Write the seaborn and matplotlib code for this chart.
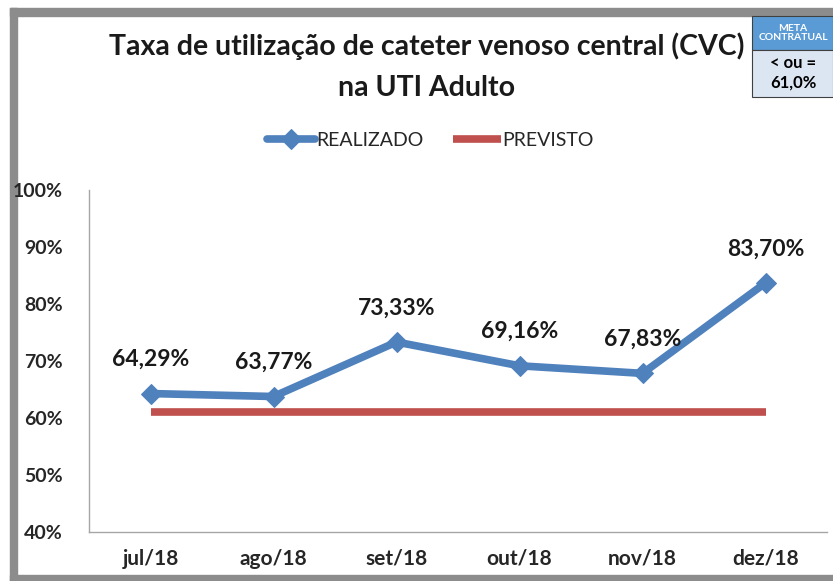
import matplotlib
matplotlib.use("Agg")
import matplotlib.pyplot as plt
from matplotlib.patches import Rectangle
import pandas as pd
import seaborn as sns

meses = ["jul/18", "ago/18", "set/18", "out/18", "nov/18", "dez/18"]
realizado = [64.29, 63.77, 73.33, 69.16, 67.83, 83.70]
previsto = [61.0, 61.0, 61.0, 61.0, 61.0, 61.0]
rotulos = ["64,29%", "63,77%", "73,33%", "69,16%", "67,83%", "83,70%"]
yticks = [40, 50, 60, 70, 80, 90, 100]

df = pd.DataFrame({"mes": meses, "realizado": realizado, "previsto": previsto})
df["x"] = range(len(meses))

sns.set_style("white")
plt.rcParams["font.family"] = ["Lato", "DejaVu Sans"]

fig = plt.figure(figsize=(8.33, 5.81), dpi=100)
W, H = 833, 581

def fx(px):
    return px / W

def fy(py):
    return 1 - py / H

# moldura cinza
fig.patches.append(Rectangle((fx(10), fy(16)), fx(833 - 10), 8 / H, transform=fig.transFigure,
                             color="#8c8c8c", zorder=-1))
fig.patches.append(Rectangle((fx(10), fy(581)), 7 / W, (581 - 8) / H, transform=fig.transFigure,
                             color="#8c8c8c", zorder=-1))
fig.patches.append(Rectangle((fx(10), fy(581)), fx(833 - 10), 6 / H, transform=fig.transFigure,
                             color="#8c8c8c", zorder=-1))

ax = fig.add_axes([fx(89), fy(532), fx(827 - 89), (532 - 190) / H])
ax.set_zorder(1)
ax.patch.set_alpha(0)

sns.lineplot(data=df, x="x", y="previsto", ax=ax, color="#C0504D", linewidth=5.5,
             label="PREVISTO", zorder=2, solid_capstyle="butt")
sns.lineplot(data=df, x="x", y="realizado", ax=ax, color="#4F81BD", linewidth=5.5,
             marker="D", markersize=14, markeredgecolor="#4F81BD", label="REALIZADO", zorder=3)

for i, (v, t) in enumerate(zip(realizado, rotulos)):
    ax.annotate(t, (i, v), xytext=(0, 17), textcoords="offset points", ha="center", va="bottom",
                fontsize=16.5, fontweight="bold", color="#1a1a1a")

ax.set_xlim(-0.5, len(meses) - 0.5)
ax.set_ylim(40, 100)
ax.set_xticks(df["x"])
ax.set_xticklabels(meses, fontsize=15, fontweight="bold")
ax.set_yticks(yticks)
ax.set_yticklabels([f"{t}%" for t in yticks], fontsize=14, fontweight="bold")
ax.tick_params(axis="y", pad=19, length=0)
ax.tick_params(axis="x", pad=12, length=0)
ax.set_xlabel("")
ax.set_ylabel("")
for s in ["top", "right"]:
    ax.spines[s].set_visible(False)
for s in ["left", "bottom"]:
    ax.spines[s].set_color("#a6a6a6")
    ax.spines[s].set_linewidth(1)

handles, labels = ax.get_legend_handles_labels()
for h in handles:
    h.set_markersize(10)
leg = fig.legend(handles[::-1], labels[::-1], loc="center", bbox_to_anchor=(fx(430), fy(140)),
                 ncol=2, frameon=False, fontsize=14, handlelength=2.5, columnspacing=1.5,
                 handletextpad=0.05)
ax.get_legend().remove()

fig.text(fx(427), fy(46), "Taxa de utilização de cateter venoso central (CVC)", ha="center",
         va="center", fontsize=20.5, fontweight="bold", color="#1a1a1a")
fig.text(fx(427), fy(88), "na UTI Adulto", ha="center", va="center", fontsize=20.5,
         fontweight="bold", color="#1a1a1a")

# caixa da meta
fig.patches.append(Rectangle((fx(752), fy(50)), fx(833 - 752), (50 - 16) / H,
                             transform=fig.transFigure, facecolor="#5B9BD5", edgecolor="#404040",
                             linewidth=0.8, zorder=5))
fig.patches.append(Rectangle((fx(752), fy(97)), fx(833 - 752), (97 - 50) / H,
                             transform=fig.transFigure, facecolor="#DCE6F2", edgecolor="#404040",
                             linewidth=0.8, zorder=5))
fig.text(fx(793), fy(33), "META\nCONTRATUAL", ha="center", va="center", fontsize=7.5,
         fontweight="bold", color="white", linespacing=1.1, zorder=6)
fig.text(fx(793), fy(73), "< ou =\n61,0%", ha="center", va="center", fontsize=12,
         fontweight="bold", color="black", linespacing=1.3, zorder=6)

fig.savefig("out.png", dpi=100)
